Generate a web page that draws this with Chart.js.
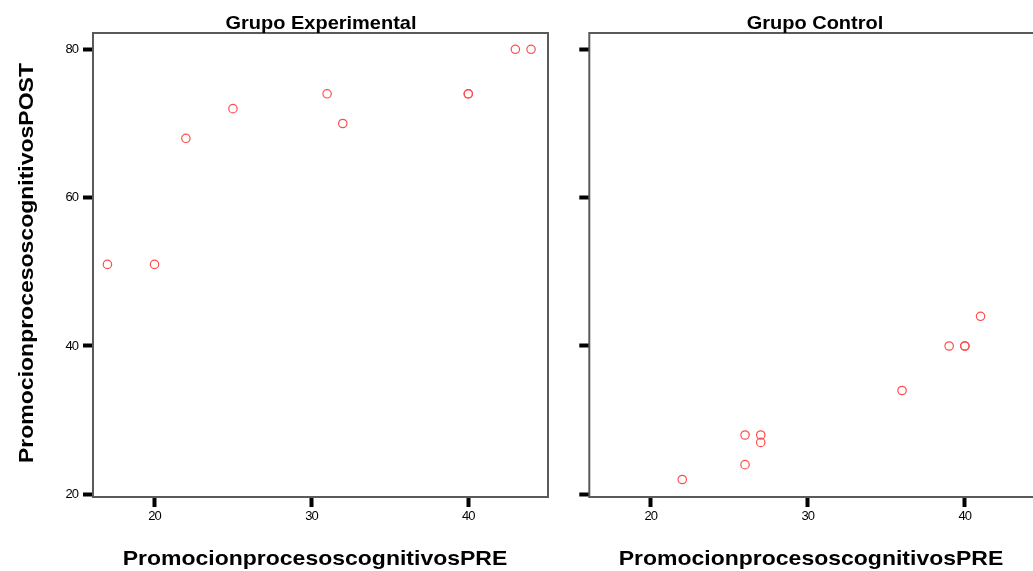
<!DOCTYPE html>
<html><head><meta charset="utf-8">
<script src="https://cdn.jsdelivr.net/npm/chart.js@4/dist/chart.umd.min.js"></script>
<style>
html,body{margin:0;padding:0;background:#fff;overflow:hidden;width:1033px;height:571px;}
#c1{position:absolute;left:0;top:0;}
#c2{position:absolute;left:570px;top:0;}
</style></head><body>
<canvas id="c1" width="556" height="571"></canvas>
<canvas id="c2" width="480" height="571"></canvas>
<script>
// ---- data ----
const expPre   = [17, 20, 22, 25, 31, 32, 40, 40, 43, 44];
const expPost  = [51, 51, 68, 72, 74, 70, 74, 74, 80, 80];
const ctrlPre  = [22, 26, 26, 27, 27, 36, 39, 40, 40, 41];
const ctrlPost = [22, 24, 28, 28, 27, 34, 40, 40, 40, 44];
const xTicks = [20, 30, 40];
const yTicks = [20, 40, 60, 80];
const panelTitles = ['Grupo Experimental', 'Grupo Control'];
const xTitle = 'PromocionprocesoscognitivosPRE';
const yTitle = 'PromocionprocesoscognitivosPOST';
const xMin = 16.08, xMax = 45.08;
const yMin = 19.64, yMax = 82.2;

const FONT = "'Liberation Sans', Arial, sans-serif";

function toPoints(xs, ys) { return xs.map((x, i) => ({x: x, y: ys[i]})); }

function wideText(ctx, text, x, y, size, stretch, angle) {
  ctx.save();
  ctx.translate(x, y);
  if (angle) ctx.rotate(angle);
  ctx.scale(stretch, 1);
  ctx.font = "bold " + size + "px " + FONT;
  ctx.fillText(text, 0, 0);
  ctx.restore();
}

function makeChart(id, pre, post, cfg) {
  const textPlugin = {
    id: 'panelTexts',
    beforeDraw(chart) { chart.ctx.letterSpacing = '-1px'; },
    beforeDatasetsDraw(chart) {
      const ctx = chart.ctx, a = chart.chartArea;
      ctx.save();
      ctx.letterSpacing = '0px';
      ctx.strokeStyle = '#5a5a5a';
      ctx.lineWidth = 2;
      ctx.strokeRect(a.left, a.top, a.right - a.left, a.bottom - a.top);
      ctx.restore();
    },
    afterDraw(chart) {
      const ctx = chart.ctx;
      ctx.save();
      ctx.fillStyle = '#000';
      ctx.textAlign = 'center';
      ctx.textBaseline = 'alphabetic';
      ctx.letterSpacing = '0px';
      wideText(ctx, cfg.title, cfg.titleX, 28.5, 18.5, 1.08, 0);
      wideText(ctx, xTitle, cfg.xTitleX, 565, 21, 1.095, 0);
      if (cfg.yTitle) {
        wideText(ctx, yTitle, 32.5, 263, 21, 1.095, -Math.PI / 2);
      }
      ctx.restore();
    }
  };
  return new Chart(document.getElementById(id), {
    type: 'scatter',
    data: {
      datasets: [{
        data: toPoints(pre, post),
        pointStyle: 'circle',
        pointRadius: 4.2,
        pointHoverRadius: 4.2,
        borderWidth: 1.2,
        pointBorderWidth: 1.2,
        borderColor: '#ff4d4d',
        pointBorderColor: '#ff4d4d',
        backgroundColor: 'rgba(0,0,0,0)',
        pointBackgroundColor: 'rgba(0,0,0,0)'
      }]
    },
    options: {
      responsive: false,
      animation: false,
      events: [],
      layout: { padding: { top: 33, right: cfg.padRight, bottom: 0, left: 0 } },
      plugins: { legend: { display: false }, tooltip: { enabled: false }, title: { display: false } },
      scales: {
        x: {
          type: 'linear', position: 'bottom', min: xMin, max: xMax,
          afterBuildTicks(s) { s.ticks = xTicks.map(v => ({value: v})); },
          afterFit(s) { s.height = 74; },
          border: { display: false },
          grid: { drawOnChartArea: false, drawTicks: true, tickLength: 10, tickWidth: 4, tickColor: '#000', color: '#000' },
          ticks: { color: '#000', padding: 2, maxRotation: 0, font: { family: FONT, size: 13 } }
        },
        y: {
          type: 'linear', position: 'left', min: yMin, max: yMax,
          afterBuildTicks(s) { s.ticks = yTicks.map(v => ({value: v})); },
          afterFit(s) { s.width = cfg.yWidth; },
          border: { display: false },
          grid: { drawOnChartArea: false, drawTicks: true, tickLength: 10, tickWidth: 4, tickColor: '#000', color: '#000' },
          ticks: { display: cfg.yLabels, color: '#000', padding: 5, font: { family: FONT, size: 13 } }
        }
      }
    },
    plugins: [textPlugin]
  });
}

makeChart('c1', expPre, expPost, { title: panelTitles[0], titleX: 321, xTitleX: 315, yTitle: true, yWidth: 93, padRight: 8, yLabels: true });
makeChart('c2', ctrlPre, ctrlPost, { title: panelTitles[1], titleX: 245, xTitleX: 241, yTitle: false, yWidth: 19.3, padRight: 5, yLabels: false });
</script>
</body></html>
